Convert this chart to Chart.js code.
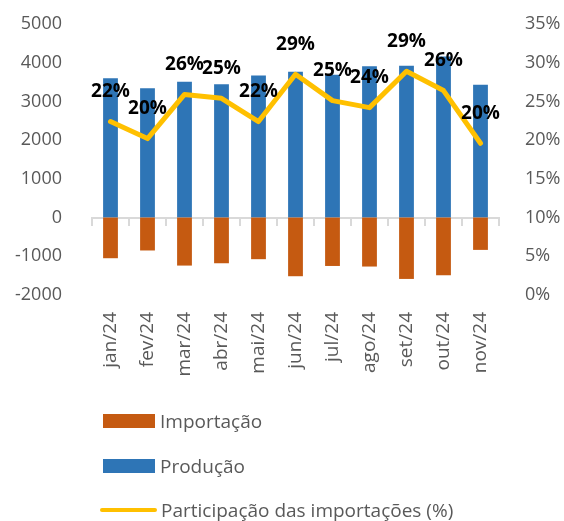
<!DOCTYPE html>
<html>
<head>
<meta charset="utf-8">
<script src="https://cdn.jsdelivr.net/npm/chart.js@4.4.0/dist/chart.umd.min.js"></script>
<style>
  body { margin: 0; background: #fff; }
  #wrap { position: relative; width: 564px; height: 521px; }
  #legend { position: absolute; left: 100px; top: 0; font-family: "Open Sans", sans-serif; font-size: 19px; color: #595959; }
  .row { position: absolute; left: 0; height: 30px; display: flex; align-items: center; white-space: nowrap; }
  .sw { display: inline-block; margin-right: 4px; }
</style>
</head>
<body>
<div id="wrap">
  <canvas id="chart" width="564" height="521"></canvas>
  <div id="legend"></div>
</div>
<script>
const months = ["jan/24", "fev/24", "mar/24", "abr/24", "mai/24", "jun/24", "jul/24", "ago/24", "set/24", "out/24", "nov/24"];
const producao = [3600, 3340, 3510, 3445, 3670, 3765, 3690, 3910, 3920, 4160, 3430];
const importacao = [-1050, -850, -1240, -1180, -1075, -1515, -1250, -1265, -1585, -1490, -835];
const participacao = [22.4, 20.2, 25.9, 25.4, 22.4, 28.5, 25.1, 24.2, 28.9, 26.4, 19.6];
const leftTicks = [-2000, 5000, 1000];
const rightTicks = [0, 35, 5];

const grey = "#595959";
const fontFam = "'Open Sans', sans-serif";

// labels over the line points
const pointLabels = {
  id: "pointLabels",
  afterDatasetsDraw(chart) {
    const ctx = chart.ctx;
    const meta = chart.getDatasetMeta(0);
    ctx.save();
    ctx.font = "bold 19px " + fontFam;
    ctx.fillStyle = "#000";
    ctx.textAlign = "center";
    ctx.textBaseline = "middle";
    meta.data.forEach((pt, i) => {
      ctx.fillText(Math.round(participacao[i]) + "%", pt.x, pt.y - 30);
    });
    ctx.restore();
  }
};

const chart = new Chart(document.getElementById("chart"), {
  data: {
    labels: months,
    datasets: [
      {
        type: "line",
        label: "Participação das importações (%)",
        data: participacao,
        yAxisID: "y1",
        borderColor: "#FFC000",
        backgroundColor: "#FFC000",
        borderWidth: 5,
        pointRadius: 0,
        borderCapStyle: "round",
        borderJoinStyle: "round",
        order: 0
      },
      {
        type: "bar",
        label: "Importação",
        data: importacao,
        yAxisID: "y",
        stack: "s",
        backgroundColor: "#C55A11",
        order: 1
      },
      {
        type: "bar",
        label: "Produção",
        data: producao,
        yAxisID: "y",
        stack: "s",
        backgroundColor: "#2E75B6",
        order: 1
      }
    ]
  },
  options: {
    responsive: false,
    animation: false,
    barPercentage: 0.4,
    categoryPercentage: 1,
    layout: {
      padding: {top: 24, right: 2, bottom: 144, left: 0}
    },
    plugins: {
      legend: {display: false},
      tooltip: {enabled: false}
    },
    scales: {
      x: {
        type: "category",
        position: {y: 0},
        stacked: true,
        offset: true,
        grid: {display: true, drawOnChartArea: false, drawTicks: true, tickLength: 7, color: "#d9d9d9", lineWidth: 2, offset: true},
        border: {display: true, color: "#d9d9d9", width: 2},
        ticks: {display: false}
      },
      x2: {
        type: "category",
        position: "bottom",
        offset: true,
        grid: {display: false, drawTicks: false},
        border: {display: false},
        ticks: {
          minRotation: 90, maxRotation: 90, autoSkip: false, padding: 17,
          color: grey, font: {family: fontFam, size: 19}
        },
        afterFit(s) { s.height = 82; s.paddingLeft = 0; s.paddingRight = 0; }
      },
      y: {
        position: "left",
        stacked: true,
        min: leftTicks[0],
        max: leftTicks[1],
        grid: {display: false},
        border: {display: false},
        ticks: {stepSize: leftTicks[2], padding: 22, color: grey, font: {family: fontFam, size: 18}, callback: v => String(v)},
        afterFit(s) { s.width = 92; s.paddingTop = 0; s.paddingBottom = 0; }
      },
      y1: {
        position: "right",
        min: rightTicks[0],
        max: rightTicks[1],
        grid: {display: false},
        border: {display: false},
        ticks: {stepSize: rightTicks[2], padding: 18, color: grey, font: {family: fontFam, size: 18}, callback: v => v + "%"},
        afterFit(s) { s.width = 63; s.paddingTop = 0; s.paddingBottom = 0; }
      }
    }
  },
  plugins: [pointLabels]
});

// legend, one item per row
const legendOrder = [1, 2, 0];
const rowTops = [406, 451, 495];
const legend = document.getElementById("legend");
legendOrder.forEach((di, k) => {
  const ds = chart.data.datasets[di];
  const row = document.createElement("div");
  row.className = "row";
  row.style.top = rowTops[k] + "px";
  const sw = document.createElement("span");
  sw.className = "sw";
  if (ds.type === "line") {
    sw.style.width = "57px";
    sw.style.height = "4px";
    sw.style.borderRadius = "2px";
    sw.style.background = ds.borderColor;
  } else {
    sw.style.width = "52px";
    sw.style.height = "14px";
    sw.style.marginLeft = "3px";
    sw.style.marginRight = "5px";
    sw.style.background = ds.backgroundColor;
  }
  row.appendChild(sw);
  const t = document.createElement("span");
  t.textContent = ds.label;
  row.appendChild(t);
  legend.appendChild(row);
});
</script>
</body>
</html>
